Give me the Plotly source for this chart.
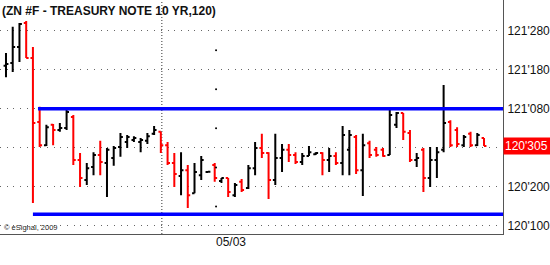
import plotly.graph_objects as go

# prices in 32nds above 120'00 (e.g. 40 = 121'080, 30.5 = 120'305)
opens = [51.0, 51.7, 55.8, 62.0, 53.0, 36.6, 30.7, 35.9, 34.6, 35.1,
         37.9, 26.9, 21.8, 25.1, 28.2, 26.1, 27.4, 30.2, 31.5, 32.0,
         31.5, 31.8, 33.6, 34.1, 30.7, 26.1, 22.8, 24.3, 18.4, 23.0,
         23.8, 25.6, 21.5, 22.3, 17.9, 21.3, 19.7, 24.8, 30.0, 28.7,
         21.8, 27.4, 29.5, 28.2, 26.4, 27.9, 28.4, 28.7, 26.9, 27.9,
         26.1, 29.5, 32.8, 24.3, 31.2, 29.5, 29.5, 28.2, 35.9, 38.9,
         33.8, 26.9, 29.5, 22.3, 26.9, 29.5, 36.6, 34.6, 30.7, 33.6,
         30.7, 32.5]
highs = [54.3, 61.0, 62.0, 62.5, 55.8, 40.5, 35.9, 36.1, 36.4, 40.0,
         38.4, 28.7, 26.1, 28.9, 31.8, 30.0, 30.5, 33.8, 33.3, 33.0,
         32.5, 33.8, 35.6, 34.1, 31.5, 28.7, 28.9, 25.6, 26.1, 27.9,
         24.1, 26.1, 22.3, 22.3, 21.0, 22.0, 25.6, 31.5, 33.6, 28.9,
         33.6, 31.0, 31.0, 28.9, 28.7, 30.5, 28.9, 28.9, 30.0, 28.9,
         35.6, 34.6, 33.3, 33.6, 31.8, 30.2, 30.0, 40.0, 39.2, 38.9,
         34.6, 28.7, 30.0, 30.2, 30.2, 46.1, 37.1, 35.3, 33.3, 34.1,
         33.8, 32.5]
lows = [48.1, 49.4, 52.0, 53.0, 15.9, 30.2, 30.5, 30.7, 34.1, 34.6,
        25.6, 20.0, 20.5, 23.0, 23.0, 17.4, 25.4, 27.7, 30.0, 31.5,
        28.9, 31.0, 33.3, 28.7, 25.6, 20.0, 17.9, 14.6, 18.4, 21.8,
        23.6, 21.3, 21.0, 17.4, 17.4, 18.7, 19.5, 23.0, 27.4, 16.9,
        20.5, 23.8, 26.4, 25.9, 25.6, 27.9, 28.2, 23.0, 23.8, 25.6,
        23.0, 23.0, 23.3, 17.7, 27.4, 27.7, 27.7, 28.2, 35.1, 32.0,
        26.4, 25.1, 18.7, 20.0, 22.3, 28.9, 30.2, 30.2, 30.2, 30.2,
        30.5, 30.5]
closes = [51.5, 55.8, 61.7, 53.0, 36.4, 30.7, 35.3, 34.6, 35.1, 39.2,
          26.9, 22.3, 24.8, 28.2, 26.4, 29.5, 30.0, 32.8, 32.8, 32.5,
          32.0, 33.0, 34.6, 30.7, 26.1, 23.3, 24.3, 17.9, 23.8, 26.9,
          23.9, 22.3, 22.3, 18.7, 20.5, 19.2, 24.8, 30.0, 28.7, 21.8,
          27.4, 29.5, 28.2, 26.4, 27.9, 28.9, 28.7, 26.9, 27.9, 26.1,
          33.3, 33.3, 24.3, 30.7, 28.2, 28.2, 27.9, 38.4, 38.9, 34.1,
          26.9, 27.4, 22.3, 26.9, 28.9, 36.4, 30.7, 31.0, 32.8, 30.7,
          33.3, 30.5]
bars = list(range(len(opens)))

tick_vals = [10, 20, 30, 40, 50, 60]
tick_text = ["120'100", "120'200", "", "121'080", "121'180", "121'280"]
last_label = "120'305"
resistance = 40.0   # 121'080
support = 13.0      # 120'130
session_break = 23.15
date_tick = 31.2
date_label = "05/03"
date_dots_y = [15, 25, 35, 45, 55]

FONT = "Liberation Sans, Arial, sans-serif"

fig = go.Figure()
fig.add_trace(go.Ohlc(
    x=bars, open=opens, high=highs, low=lows, close=closes,
    increasing=dict(line=dict(color="#000000", width=2)),
    decreasing=dict(line=dict(color="#ff0000", width=2)),
    tickwidth=0.36, hoverinfo="skip", showlegend=False,
))
fig.add_trace(go.Scatter(
    x=[date_tick] * len(date_dots_y), y=date_dots_y, mode="markers",
    marker=dict(size=2, color="#000000"), hoverinfo="skip", showlegend=False,
))

xr = [-0.89, 73.82]
fig.add_shape(type="line", xref="x", yref="y", x0=4.75, x1=xr[1], y0=resistance, y1=resistance,
              line=dict(color="#0000ff", width=3.5))
fig.add_shape(type="line", xref="x", yref="y", x0=4.0, x1=xr[1], y0=support, y1=support,
              line=dict(color="#0000ff", width=3.5))
fig.add_shape(type="line", xref="x", yref="paper", x0=session_break, x1=session_break, y0=0, y1=1,
              line=dict(color="#333333", width=1, dash="1px,2px"), layer="below")

fig.add_annotation(xref="paper", yref="paper", x=0, y=1, xanchor="left", yanchor="top",
                   yshift=-2, text="<b>(ZN #F - TREASURY NOTE 10 YR,120)</b>", showarrow=False,
                   font=dict(family=FONT, size=12, color="#111111"))
fig.add_annotation(xref="paper", yref="paper", x=0.004, y=0.026, xanchor="left", yanchor="middle",
                   text="© eSignal, 2009", showarrow=False,
                   font=dict(family=FONT, size=7.5, color="#222222"))
fig.add_annotation(xref="x", yref="paper", x=date_tick, y=-0.034, xanchor="left", yanchor="middle",
                   text=date_label, showarrow=False, xshift=-2,
                   font=dict(family=FONT, size=12, color="#111111"))
fig.add_annotation(xref="paper", yref="y", x=1, y=closes[-1], xanchor="left", yanchor="middle",
                   text=last_label, showarrow=False, bgcolor="#ff0000", borderpad=1,
                   width=45, align="left",
                   font=dict(family=FONT, size=12, color="#ffffff"))

fig.update_layout(
    width=550, height=265,
    margin=dict(l=0, r=47, t=0, b=31),
    paper_bgcolor="#ffffff", plot_bgcolor="#ffffff",
    xaxis=dict(range=xr, showgrid=False, zeroline=False, showticklabels=False,
               rangeslider=dict(visible=False), showline=True, linecolor="#555555",
               linewidth=1, ticks=""),
    yaxis=dict(range=[7.95, 67.86], side="right", tickvals=tick_vals, ticktext=tick_text,
               showgrid=True, gridcolor="#666666", gridwidth=1, griddash="1px,5.7px",
               zeroline=False, showline=True, linecolor="#555555", linewidth=1,
               ticks="", ticklabelstandoff=1,
               tickfont=dict(family=FONT, size=12, color="#111111")),
    showlegend=False,
)

fig.write_html("out.html")
